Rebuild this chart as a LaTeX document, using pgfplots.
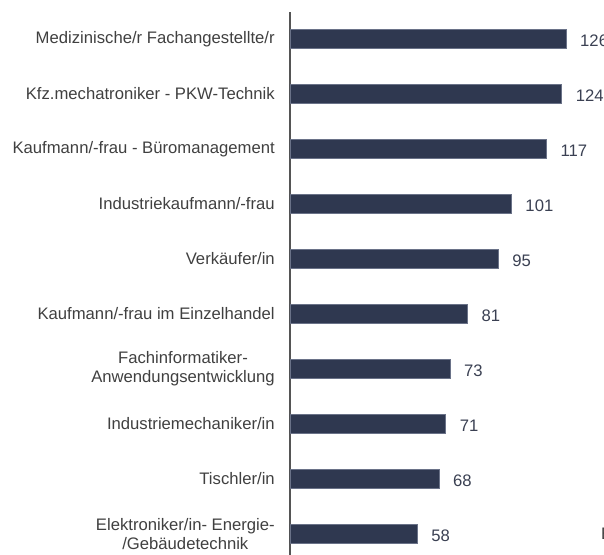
\documentclass[border=0pt]{standalone}
\usepackage{fontspec}
\setmainfont{Liberation Sans}
\usepackage{pgfplots}
\pgfplotsset{compat=1.18}

\definecolor{cBar}{HTML}{2F3850}
\definecolor{cBarEdge}{HTML}{6A7288}
\definecolor{cAxis}{HTML}{555555}
\definecolor{cLabel}{HTML}{404040}
\definecolor{cValue}{HTML}{3A4052}

\begin{document}
\begin{tikzpicture}
% 1px = 0.75pt; page 604x555 px, axis line at px 290
\begin{axis}[
    name=ax, at={(0,0)}, anchor=south west,
    scale only axis, width=235.5pt, height=407.25pt,
    xbar, bar width=14.25pt,
    xmin=0, xmax=143.4,
    ymin=-0.382, ymax=9.491,
    axis x line=none, axis y line=left,
    axis line style={cAxis, line width=1.1pt, -},
    ytick={0,...,9}, major tick length=0pt,
    yticklabels={
      {Elektroniker/in- Energie-\\/Gebäudetechnik},
      {Tischler/in},
      {Industriemechaniker/in},
      {Fachinformatiker-\\Anwendungsentwicklung},
      {Kaufmann/-frau im Einzelhandel},
      {Verkäufer/in},
      {Industriekaufmann/-frau},
      {Kaufmann/-frau - Büromanagement},
      {Kfz.mechatroniker - PKW-Technik},
      {Medizinische/r Fachangestellte/r}},
    yticklabel style={font=\fontsize{12.5}{14}\selectfont, text=cLabel,
                      align=center, inner sep=0pt, xshift=-11.25pt},
    /pgf/number format/assume math mode=true,
    nodes near coords,
    every node near coord/.append style={font=\fontsize{12.5}{14}\selectfont,
        text=cValue, anchor=west, inner sep=0pt, xshift=10.5pt, yshift=-1pt},
    clip=false,
]
\addplot[fill=cBar, draw=cBarEdge, line width=0.5pt]
  coordinates {(58,0) (68,1) (71,2) (73,3) (81,4)
               (95,5) (101,6) (117,7) (124,8) (126,9)};
\node[anchor=west, inner sep=0pt, text=cLabel,
      font=\fontsize{12.5}{14}\selectfont] at (axis cs:142,0) {E};
\end{axis}
\pgfresetboundingbox
\useasboundingbox (-217.5pt,0) rectangle (235.5pt,416.25pt);
\end{tikzpicture}
\end{document}
